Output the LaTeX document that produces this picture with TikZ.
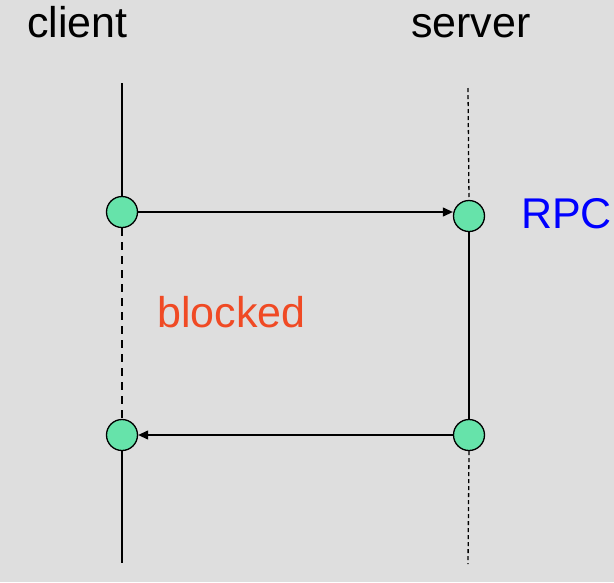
\documentclass[tikz,border=0pt]{standalone}
\usepackage{fontspec}
\setmainfont{Liberation Sans}
\usepackage{tikz}
\usetikzlibrary{positioning}
\usetikzlibrary{arrows.meta}

\definecolor{bgray}{HTML}{DEDEDE}
\definecolor{mint}{HTML}{66E3AA}
\definecolor{rpcblue}{HTML}{0000FF}
\definecolor{blockred}{HTML}{F04A24}

\tikzset{
	event/.style={circle,draw,fill=mint,line width=1.3pt,minimum size=31pt,inner sep=0pt},
	label text/.style={inner sep=0pt,anchor=base west,font=\fontsize{43}{50}\selectfont},
	msg/.style={line width=1.2pt,-{Triangle[length=10pt,width=9pt]}},
}

\begin{document}
\begin{tikzpicture}[x=1pt,y=-1pt]
	\fill[bgray] (0,0) rectangle (614,582);
	\useasboundingbox (0,0) rectangle (614,582);
	\node[label text] (client) at (27,37) {client};
	\node[label text] (server) at (411,37) {server};
	\node[label text,text=rpcblue] (rpc) at (521,228) {RPC};
	\node[label text,text=blockred] (blocked) at (157,327) {blocked};
	\node[event] (c1) at (122,212) {};
	\node[event] (s1) at (469,216) {};
	\node[event] (s2) at (469,435) {};
	\node[event] (c2) at (122,435) {};
	\coordinate (ctop) at (122,83);
	\coordinate (cbot) at (122,563);
	\coordinate (stop) at (468,88);
	\coordinate (sbot) at (468,564);
	% client time line
	\draw[line width=1.3pt] (ctop) -- (c1.north);
	\draw[line width=1.3pt,dash pattern=on 8pt off 6pt] (c1.south) -- (c2.north);
	\draw[line width=1.3pt] (c2.south) -- (cbot);
	% server time line
	\draw[line width=1.3pt,dash pattern=on 4pt off 3pt] (stop) -- (s1.north);
	\draw[line width=1.3pt] (s1.south) -- (s2.north);
	\draw[line width=1.3pt,dash pattern=on 4pt off 3pt] (s2.south) -- (sbot);
	% messages
	\draw[msg] (c1.east) -- (c1.east -| s1.west);
	\draw[msg] (s2.west) -- (c2.east);
\end{tikzpicture}
\end{document}
